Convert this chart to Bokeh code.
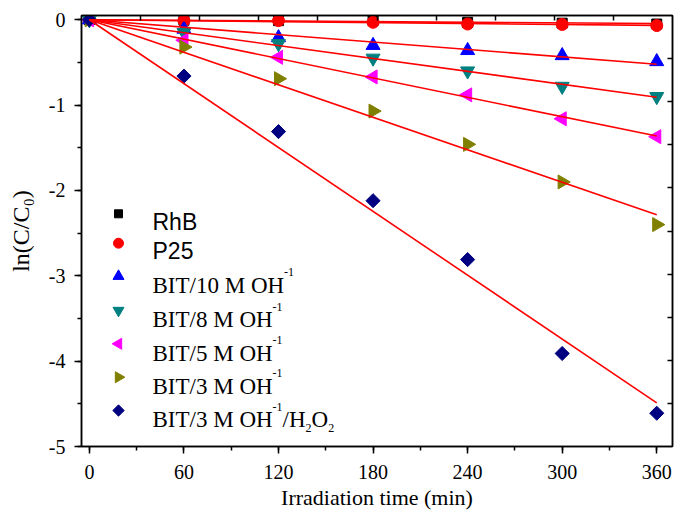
import numpy as np
from bokeh.plotting import figure
from bokeh.models import LinearAxis, SingleIntervalTicker, FixedTicker, CustomJSTickFormatter
from bokeh.core.properties import value
from bokeh.embed import file_html
from bokeh.resources import INLINE

# ---- data ----
time = [0, 60, 120, 180, 240, 300, 360]
rhb = [0, -0.005, -0.01, -0.01, -0.03, -0.04, -0.05]
p25 = [0, -0.01, -0.01, -0.03, -0.05, -0.055, -0.068]
bit10 = [0, -0.11, -0.21, -0.30, -0.36, -0.42, -0.49]
bit8 = [0, -0.15, -0.28, -0.45, -0.60, -0.78, -0.90]
bit5 = [0, -0.24, -0.44, -0.67, -0.88, -1.16, -1.37]
bit3 = [0, -0.32, -0.69, -1.07, -1.46, -1.90, -2.40]
bit3h = [0, -0.66, -1.31, -2.12, -2.81, -3.91, -4.61]

series_names = ["RhB", "P25", "BIT/10 M OH", "BIT/8 M OH", "BIT/5 M OH", "BIT/3 M OH", "BIT/3 M OH"]
series_vals = [rhb, p25, bit10, bit8, bit5, bit3, bit3h]
colors = ["#000000", "#ff0000", "#0000ff", "#008080", "#ff00ff", "#808000", "#000080"]
markers = ["square", "circle", "triangle", "inverted_triangle", "triangle", "triangle", "square"]
angles = [0, 0, 0, 0, np.pi / 2, -np.pi / 2, np.pi / 4]
sizes = [10, 12, 14, 14, 14, 14, 10]
leg_sizes = [8, 10, 11, 11, 11, 11, 8]

x_ticks_top = [-5 + 37.5 * k for k in range(1, 10)]
y_ticks_right = [0.05 - 0.505 * k for k in range(1, 10)]
y_tick_labels = {0: "0", -1: "-1", -2: "-2", -3: "-3", -4: "-4", -5: "-5"}
x_title = "Irradiation time (min)"
y_title = "ln(C/C\u2080)"

SERIF = "Liberation Serif"
SANS = "Liberation Sans"

p = figure(width=675, height=516, x_range=(-5, 370), y_range=(-5, 0.05),
           output_backend="svg", toolbar_location=None,
           min_border_left=81, min_border_right=3, min_border_top=15, min_border_bottom=70,
           background_fill_color="white", border_fill_color="white")
p.xgrid.visible = False
p.ygrid.visible = False
p.outline_line_color = "black"
p.outline_line_width = 1.5

p.xaxis.ticker = SingleIntervalTicker(interval=60, num_minor_ticks=2)
p.yaxis.ticker = SingleIntervalTicker(interval=1, num_minor_ticks=2)
p.yaxis.major_label_overrides = y_tick_labels
p.xaxis.axis_label = x_title
p.yaxis.axis_label = y_title
for ax in (p.xaxis, p.yaxis):
    ax.axis_line_width = 1.5
    ax.major_tick_line_width = 1.5
    ax.minor_tick_line_width = 1.5
    ax.major_tick_out = 7
    ax.major_tick_in = 0
    ax.minor_tick_out = 4
    ax.minor_tick_in = 0
    ax.major_label_text_font = SERIF
    ax.major_label_text_font_size = "20px"
    ax.major_label_text_color = "black"
    ax.axis_label_text_font = SERIF
    ax.axis_label_text_font_style = "normal"
    ax.axis_label_text_color = "black"
p.xaxis.axis_label_text_font_size = "22px"
p.yaxis.axis_label_text_font_size = "24px"
p.xaxis.major_label_standoff = 11
p.xaxis.axis_label_standoff = 3
p.yaxis.major_label_standoff = 9
p.yaxis.axis_label_standoff = 12

blank = CustomJSTickFormatter(code="return ''")
top = LinearAxis(ticker=FixedTicker(ticks=x_ticks_top, minor_ticks=[]), formatter=blank)
right = LinearAxis(ticker=FixedTicker(ticks=y_ticks_right, minor_ticks=[]),
                   formatter=CustomJSTickFormatter(code="return ''"))
for ax in (top, right):
    ax.axis_line_width = 1.5
    ax.major_tick_line_width = 1.5
    ax.major_tick_in = 5
    ax.major_tick_out = 0
    ax.major_label_standoff = 0
p.add_layout(top, "above")
p.add_layout(right, "right")

# data markers
for vals, c, m, a, s in zip(series_vals, colors, markers, angles, sizes):
    p.scatter(time, vals, marker=m, angle=a, size=s, fill_color=c, line_color=c)

# fit lines through origin (least squares)
t = np.array(time, dtype=float)
for vals in series_vals:
    v = np.array(vals, dtype=float)
    k = (t * v).sum() / (t * t).sum()
    p.line([0, 360], [0, k * 360], line_color="#ff0000", line_width=1.6)

PX_X = 591 / 375.0
PX_Y = 431 / 5.05
def px_y(py):
    return 0.05 - (py - 15) / PX_Y
def px_x(px):
    return -5 + (px - 81) / PX_X

# legend (manual, for superscripts/subscripts)
rows_px = [213.3, 242.7, 275.7, 310.0, 343.3, 376.7, 410.0]
sym_x = px_x(118)
txt_x = px_x(152)
MAIN = 23
SUP = 12
serif_w = {"B": 667, "I": 333, "T": 611, "/": 278, "0": 500, "1": 500, "3": 500, "5": 500,
           "8": 500, " ": 250, "M": 889, "O": 722, "H": 722, "-": 333, "2": 500}
def w(txt, size):
    return sum(serif_w[ch] for ch in txt) * size / 1000.0

for i, (name, c, m, a, s) in enumerate(zip(series_names, colors, markers, angles, leg_sizes)):
    R = rows_px[i]
    p.scatter([sym_x], [px_y(R)], marker=m, angle=a, size=s, fill_color=c, line_color=c)
    if i < 2:
        p.text([txt_x], [px_y(R + 8.2)], text=[name], text_font=value(SANS),
               text_font_size=value(f"{MAIN}px"), text_baseline="alphabetic", text_color="black")
        continue
    p.text([txt_x], [px_y(R + 9.3)], text=[name], text_font=value(SERIF),
           text_font_size=value(f"{MAIN}px"), text_baseline="alphabetic", text_color="black")
    off = w(name, MAIN)
    p.text([txt_x], [px_y(R - 3.8)], text=["-1"], x_offset=off, text_font=value(SERIF),
           text_font_size=value(f"{SUP}px"), text_baseline="alphabetic", text_color="black")
    if i == 6:
        off += w("-1", SUP)
        p.text([txt_x], [px_y(R + 9.3)], text=["/H"], x_offset=off, text_font=value(SERIF),
               text_font_size=value(f"{MAIN}px"), text_baseline="alphabetic", text_color="black")
        off += w("/H", MAIN)
        p.text([txt_x], [px_y(R + 17.7)], text=["2"], x_offset=off, text_font=value(SERIF),
               text_font_size=value(f"{SUP}px"), text_baseline="alphabetic", text_color="black")
        off += w("2", SUP)
        p.text([txt_x], [px_y(R + 9.3)], text=["O"], x_offset=off, text_font=value(SERIF),
               text_font_size=value(f"{MAIN}px"), text_baseline="alphabetic", text_color="black")
        off += w("O", MAIN)
        p.text([txt_x], [px_y(R + 17.7)], text=["2"], x_offset=off, text_font=value(SERIF),
               text_font_size=value(f"{SUP}px"), text_baseline="alphabetic", text_color="black")

open("out.html", "w").write(file_html(p, INLINE))
